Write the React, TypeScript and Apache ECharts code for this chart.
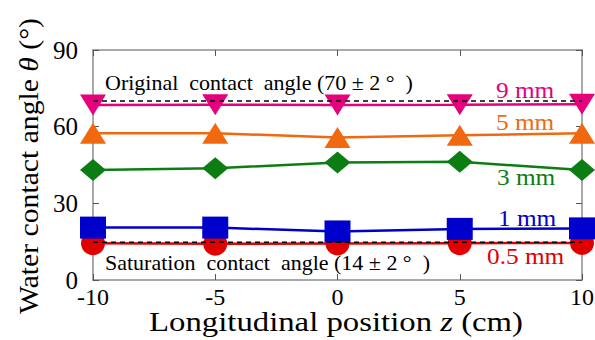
import React, { useEffect, useRef } from "react";
import * as echarts from "echarts";

const positions = [-10, -5, 0, 5, 10];
const mm9 = [68.5, 68.6, 68.5, 68.6, 68.8];
const mm5 = [57.4, 57.4, 55.8, 56.6, 57.4];
const mm3 = [43, 43.7, 46, 46.3, 43];
const mm1 = [20.5, 20.5, 19, 20, 20.2];
const mm05 = [14.4, 14.2, 14.3, 14.4, 14.5];
const originalAngle = 70;
const saturationAngle = 14.8;
const xTicks = { min: -10, max: 10, interval: 5 };
const yTicks = { min: 0, max: 90, interval: 30 };

const SERIF = "Liberation Serif";

const pair = (arr: number[]) => positions.map((x, i) => [x, arr[i]]);

export default function App() {
  const ref = useRef<HTMLDivElement>(null);
  useEffect(() => {
    if (!ref.current) return;
    const chart = echarts.init(ref.current, null, { renderer: "svg" });
    const axisColor = "#8c8c8c";
    const mk = (name: string, data: number[], color: string, symbol: string, size: any, rotate = 0) => ({
      name,
      type: "line",
      data: pair(data),
      symbol,
      symbolSize: size,
      symbolRotate: rotate,
      lineStyle: { color, width: 2.5 },
      itemStyle: { color },
      showSymbol: true,
    });
    const dashed = (v: number) => ({
      type: "line",
      data: [[xTicks.min, v], [xTicks.max, v]],
      symbol: "none",
      lineStyle: { color: "#000", width: 1.5, type: [5, 4] },
      z: 10,
    });
    const commonAxis = {
      axisLine: { show: true, onZero: false, lineStyle: { color: axisColor, width: 1.5 } },
      axisTick: { show: true, inside: true, length: 6, lineStyle: { color: "#555" } },
      splitLine: { show: false },
    };
    const txt = (text: string, x: number, y: number, fill: string, fontSize: number, sx: number) => ({
      type: "text",
      x,
      y,
      scaleX: sx,
      z: 20,
      style: { text, fontFamily: SERIF, fontSize, fill, verticalAlign: "middle" },
    });
    chart.setOption({
      animation: false,
      grid: { left: 93, right: 13, top: 50, bottom: 60, containLabel: false, outerBoundsMode: "none" },
      xAxis: [
        {
          type: "value",
          min: xTicks.min,
          max: xTicks.max,
          interval: xTicks.interval,
          ...commonAxis,
          axisLabel: { color: "#000", fontFamily: SERIF, fontSize: 24, margin: 5 },
        },
        {
          type: "value",
          position: "top",
          min: xTicks.min,
          max: xTicks.max,
          interval: xTicks.interval,
          ...commonAxis,
          axisLabel: { show: false },
        },
      ],
      yAxis: [
        {
          type: "value",
          min: yTicks.min,
          max: yTicks.max,
          interval: yTicks.interval,
          ...commonAxis,
          axisLabel: {
            color: "#000",
            fontFamily: SERIF,
            fontSize: 25,
            margin: 15,
            verticalAlignMinLabel: "middle",
            verticalAlignMaxLabel: "middle",
          },
        },
        {
          type: "value",
          position: "right",
          min: yTicks.min,
          max: yTicks.max,
          interval: yTicks.interval,
          ...commonAxis,
          axisLabel: { show: false },
        },
      ],
      series: [
        mk("0.5 mm", mm05, "#E00000", "circle", 24),
        mk("1 mm", mm1, "#0000CC", "rect", [26, 22]),
        mk("3 mm", mm3, "#0B7D13", "diamond", [26, 22]),
        mk("5 mm", mm5, "#F0690F", "triangle", [26, 21]),
        mk("9 mm", mm9, "#E6007E", "triangle", [26, 21], 180),
        dashed(originalAngle),
        dashed(saturationAngle),
      ],
      graphic: [
        {
          type: "text",
          x: 336,
          y: 322,
          scaleX: 1.17,
          z: 20,
          style: {
            text: "Longitudinal position {i|z} (cm)",
            fontFamily: SERIF,
            fontSize: 28,
            fill: "#000",
            align: "center",
            verticalAlign: "middle",
            rich: { i: { fontStyle: "italic", fontFamily: SERIF, fontSize: 28, fill: "#000" } },
          },
        },
        {
          type: "text",
          x: 28,
          y: 166,
          rotation: Math.PI / 2,
          scaleX: 1.06,
          z: 20,
          style: {
            text: "Water contact angle {i|θ} (°)",
            fontFamily: SERIF,
            fontSize: 28,
            fill: "#000",
            align: "center",
            verticalAlign: "middle",
            rich: { i: { fontStyle: "italic", fontFamily: SERIF, fontSize: 28, fill: "#000" } },
          },
        },
        txt("Original\u00A0\u00A0contact\u00A0\u00A0angle\u00A0(70\u00A0\u00B1\u00A02\u00A0\u00B0\u00A0\u00A0)", 105, 83, "#000", 20, 1.1),
        txt("Saturation\u00A0\u00A0contact\u00A0\u00A0angle\u00A0(14\u00A0\u00B1\u00A02\u00A0\u00B0\u00A0\u00A0)", 105, 263, "#000", 20, 1.1),
        txt("9 mm", 496, 90, "#E6007E", 23, 1.1),
        txt("5 mm", 496, 122, "#F0690F", 23, 1.1),
        txt("3 mm", 497, 177, "#0B7D13", 23, 1.1),
        txt("1 mm", 498, 218, "#0000CC", 23, 1.1),
        txt("0.5 mm", 487, 256, "#E00000", 23, 1.1),
      ],
    });
    return () => chart.dispose();
  }, []);
  return <div ref={ref} style={{ width: 595, height: 340, position: "absolute", left: 0, top: 0 }} />;
}
